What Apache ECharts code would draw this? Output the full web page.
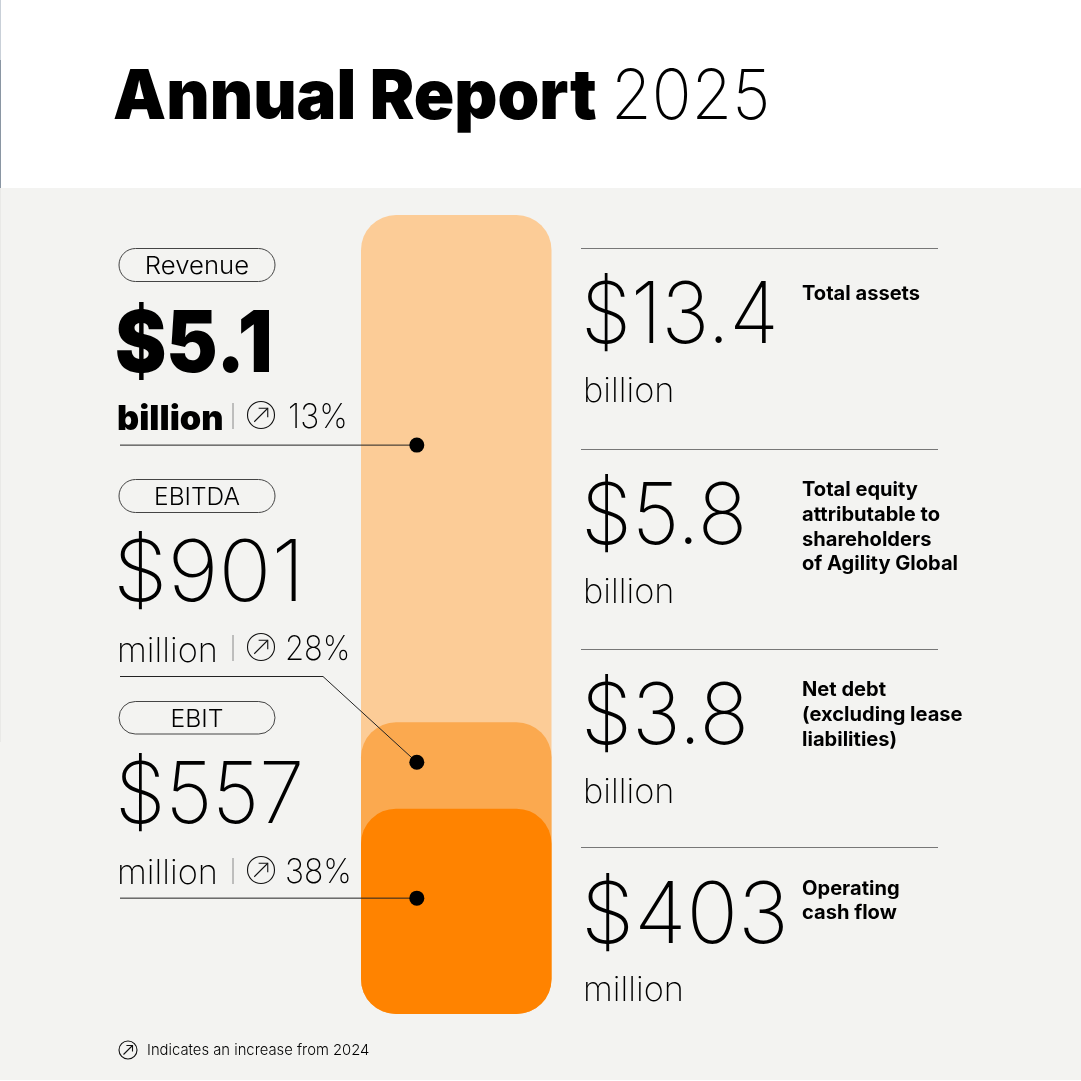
<!DOCTYPE html>
<html><head><meta charset="utf-8">
<style>html,body{margin:0;padding:0;background:#fff}#c{width:1081px;height:1081px}</style>
<script src="https://cdn.jsdelivr.net/npm/echarts@6/dist/echarts.min.js"></script>
</head><body><div id="c"></div>
<script>
// ---- data ----
const barCategory = ['2025'];
const seriesNames = ['Revenue', 'EBITDA', 'EBIT'];
const barLevels = [100, 36.5, 25.7];        // drawn height, % of the tallest bar (not to scale with amounts)
const seriesColors = ['#fccc97', '#fba94f', '#ff8300'];
const dotAcross = [29.3, 29.3, 29.3];       // position across the bar, %
const dotLevels = [71.2, 31.5, 14.5];       // position up the bar, %
const leftAmounts = ['$5.1', '$901', '$557'];
const leftUnits = ['billion', 'million', 'million'];
const leftChanges = ['13%', '28%', '38%'];
const rightAmounts = ['$13.4', '$5.8', '$3.8', '$403'];
const rightUnits = ['billion', 'billion', 'billion', 'million'];
const rightLabels = [['Total assets'], ['Total equity', 'attributable to', 'shareholders', 'of Agility Global'], ['Net debt', '(excluding lease', 'liabilities)'], ['Operating', 'cash flow']];
const footnote = 'Indicates an increase from 2024';

const F = 'Inter';
const INK = '#000';
const g = [];
function rect(x, y, w, h, fill, z) { g.push({ type: 'rect', silent: true, z: z == null ? -10 : z, shape: { x, y, width: w, height: h }, style: { fill } }); }
function line(x1, y1, x2, y2, stroke, w) { g.push({ type: 'line', silent: true, z: 20, shape: { x1, y1, x2, y2 }, style: { stroke: stroke || '#333', lineWidth: w || 1 } }); }
function txt(x, base, s, size, weight, sx, align) {
  // text is placed from its top; base = wanted baseline y
  g.push({ type: 'text', silent: true, z: 30, x, y: base - 0.8 * size, scaleX: sx || 1, originX: 0, originY: 0,
    style: { text: s, fill: INK, font: weight + ' ' + size + 'px ' + F, textAlign: align || 'left' } });
}
function icon(cx, cy, r) {
  g.push({ type: 'circle', silent: true, z: 30, shape: { cx, cy, r }, style: { fill: 'none', stroke: '#111', lineWidth: 1.1 } });
  const a = r * 0.5;
  line(cx - a, cy + a, cx + a, cy - a, '#111', 1.1);
  g.push({ type: 'polyline', silent: true, z: 30, shape: { points: [[cx - a * 0.35, cy - a], [cx + a, cy - a], [cx + a, cy + a * 0.35]] }, style: { fill: 'none', stroke: '#111', lineWidth: 1.1 } });
}
function pill(y, h, s, sx) {
  g.push({ type: 'rect', silent: true, z: 25, shape: { x: 119, y, width: 156, height: h, r: h / 2 }, style: { fill: 'none', stroke: '#444', lineWidth: 1 } });
  txt(197, y + h / 2 + 8.5, s, 24.5, 300, sx, 'center');
}

// page panels
rect(0, 0, 1081, 188, '#ffffff');
rect(0, 188, 1081, 892, '#f3f3f1');
rect(0, 0, 1, 60, '#c9d0d8');
rect(0, 60, 1, 128, '#8a96a3');
rect(0, 188, 1, 554, '#e9e9e7');
rect(0, 1080, 1081, 1, '#ffffff');

// title
txt(113, 119, 'Annual Report', 69, 900, 0.97);
txt(611, 119, '2025', 69, 200, 0.955);

// left block
const leftPill = [[248.5, 33], [479.5, 33], [701.5, 32.5]];
const leftPillFit = [1.05, 1, 1.01];
const leftAmountBase = [372, 601, 823];
const leftUnitBase = [430, 662, 884];
const leftAmountX = [115, 113, 115];
const leftAmountFit = [0.907, 1.03, 0.954];
const leftChangeX = [288, 285, 285];
const leftChangeFit = [0.94, 0.91, 0.94];
const iconY = [415, 647, 870];
leftAmounts.forEach((a, i) => {
  pill(leftPill[i][0], leftPill[i][1], seriesNames[i], leftPillFit[i]);
  txt(leftAmountX[i], leftAmountBase[i], a, 85, i === 0 ? 900 : 200, leftAmountFit[i]);
  txt(117, leftUnitBase[i], leftUnits[i], 34, i === 0 ? 900 : 200, 1.01);
  line(233, iconY[i] - 12, 233, iconY[i] + 14, '#888', 1);
  icon(261, iconY[i], 13.5);
  txt(leftChangeX[i], iconY[i] + 13, leftChanges[i], 34, 200, leftChangeFit[i]);
});

// right block
const ruleY = [248.5, 449.5, 649.5, 847.5];
const rightAmountBase = [343, 544, 744, 943];
const rightUnitBase = [402, 603, 803, 1001];
const rightAmountFit = [0.945, 0.963, 0.964, 1.005];
const rightLabelBase = [[300], [496, 521, 546, 570], [696, 721, 746], [895, 919]];
rightAmounts.forEach((a, i) => {
  line(581, ruleY[i], 938, ruleY[i], '#777', 1);
  txt(581, rightAmountBase[i], a, 85, 200, rightAmountFit[i]);
  txt(583, rightUnitBase[i], rightUnits[i], 34, 200, 1.01);
  rightLabels[i].forEach((l, j) => txt(802, rightLabelBase[i][j], l, 19.5, 700, 1.03));
});

// footnote
icon(128, 1050, 9);
txt(147, 1055, footnote, 15, 300, 0.987);

const chart = echarts.init(document.getElementById('c'), null, { renderer: 'canvas' });
const grid = { left: 361, top: 215, width: 190.5, height: 799, containLabel: false };
chart.setOption({
  animation: false,
  backgroundColor: 'transparent',
  grid,
  xAxis: [
    { type: 'category', data: barCategory, show: false },
    { type: 'value', min: 0, max: 100, show: false }
  ],
  yAxis: { type: 'value', min: 0, max: 100, show: false },
  series: seriesNames.map((n, i) => ({
    name: n, type: 'bar', data: [barLevels[i]], barWidth: '100%', barGap: '-100%', z: 2 + i, silent: true,
    itemStyle: { color: seriesColors[i], borderRadius: 35 }
  })).concat([{
    type: 'scatter', xAxisIndex: 1, silent: true, z: 10, symbolSize: 15,
    itemStyle: { color: '#000', opacity: 1 },
    data: dotAcross.map((x, i) => [x, dotLevels[i]])
  }]),
  graphic: g
});
// leader lines end at the dots, wherever the scales put them
const dots = dotLevels.map((v, i) => chart.convertToPixel({ xAxisIndex: 1, yAxisIndex: 0 }, [dotAcross[i], v]));
const pts = [
  [[120, dots[0][1]], dots[0]],
  [[120, 676.5], [323, 676.5], dots[1]],
  [[120, dots[2][1]], dots[2]]
];
chart.setOption({ series: seriesNames.map(() => ({})).concat([{ z: 10, zlevel: 1 }]),
  graphic: g.concat(pts.map(p => ({ type: 'polyline', silent: true, z: 40, shape: { points: p }, style: { fill: 'none', stroke: '#222', lineWidth: 1 } }))) });
</script></body></html>
